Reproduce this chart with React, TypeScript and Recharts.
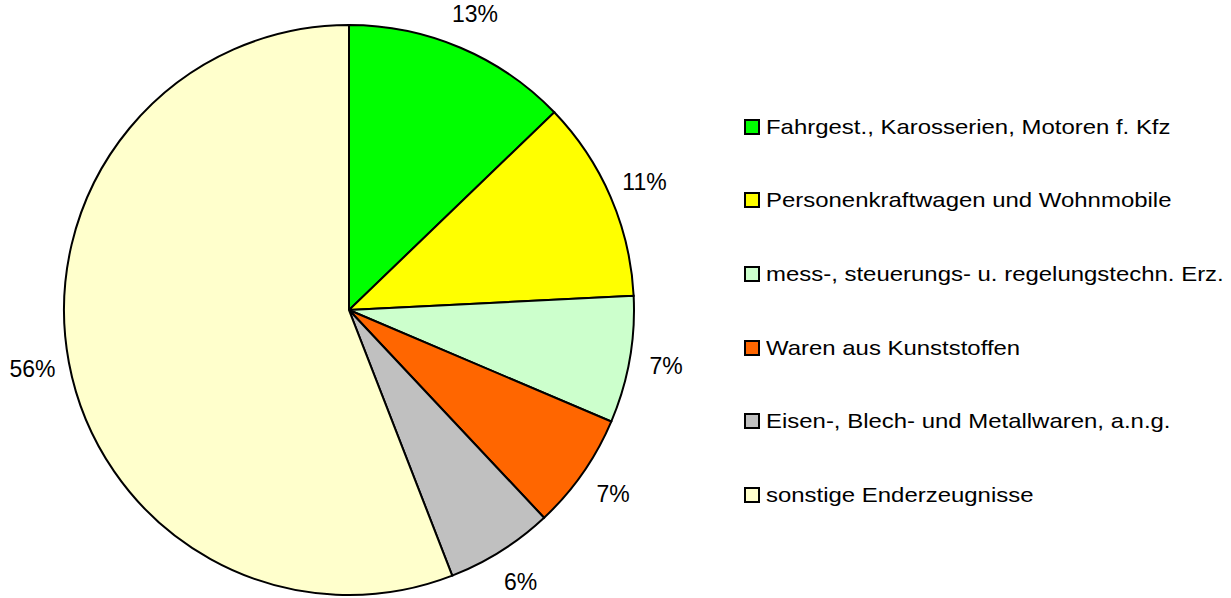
import { PieChart, Pie, Cell, Legend } from 'recharts';

const categories = [
  'Fahrgest., Karosserien, Motoren f. Kfz',
  'Personenkraftwagen und Wohnmobile',
  'mess-, steuerungs- u. regelungstechn. Erz.',
  'Waren aus Kunststoffen',
  'Eisen-, Blech- und Metallwaren, a.n.g.',
  'sonstige Enderzeugnisse',
];
const shares = [12.8, 11.4, 7.2, 6.6, 6.1, 55.9];
const colors = ['#00ff00', '#ffff00', '#ccffcc', '#ff6600', '#c0c0c0', '#ffffcc'];

const data = categories.map((name, i) => ({ name, value: shares[i] }));

const RADIAN = Math.PI / 180;
const FONT = '"Liberation Sans", Arial, sans-serif';

function renderLabel(props: any) {
    const { cx, cy, midAngle, outerRadius, value } = props;
    const r = outerRadius + 37;
    const x = cx + r * Math.cos(-midAngle * RADIAN);
    const y = cy + r * Math.sin(-midAngle * RADIAN);
    return (
        <text x={x} y={y} textAnchor="middle" dominantBaseline="central" fill="#000" fontSize={23} fontFamily={FONT}>
            {Math.round(value)}%
        </text>
    );
}

function renderLegend() {
    return (
        <div style={{ fontFamily: FONT, fontSize: 21, color: '#000' }}>
            {categories.map((name, i) => (
                <div key={name} style={{ display: 'flex', alignItems: 'center', height: 73.6 }}>
                    <span style={{ width: 12, height: 12, border: '2px solid #000', background: colors[i], marginRight: 6, flexShrink: 0 }} />
                    <span style={{ whiteSpace: 'nowrap', display: 'inline-block', transform: 'scaleX(1.14)', transformOrigin: 'left center' }}>{name}</span>
                </div>
            ))}
        </div>
    );
}

export default function App() {
    return (
        <div style={{ position: 'absolute', left: 0, top: 0, width: 1231, height: 598, background: '#fff' }}>
            <PieChart width={1231} height={598} margin={{ top: 0, right: 0, bottom: 0, left: 0 }}>
                <Pie
                    data={data}
                    dataKey="value"
                    nameKey="name"
                    cx={349}
                    cy={310}
                    outerRadius={285}
                    startAngle={90}
                    endAngle={-270}
                    stroke="#000"
                    strokeWidth={2}
                    label={renderLabel}
                    labelLine={false}
                    isAnimationActive={false}
                >
                    {data.map((d, i) => (
                        <Cell key={d.name} fill={colors[i]} />
                    ))}
                </Pie>
                <Legend
                    content={renderLegend}
                    wrapperStyle={{ position: 'absolute', left: 744, top: 90, width: 480 }}
                />
            </PieChart>
        </div>
    );
}
